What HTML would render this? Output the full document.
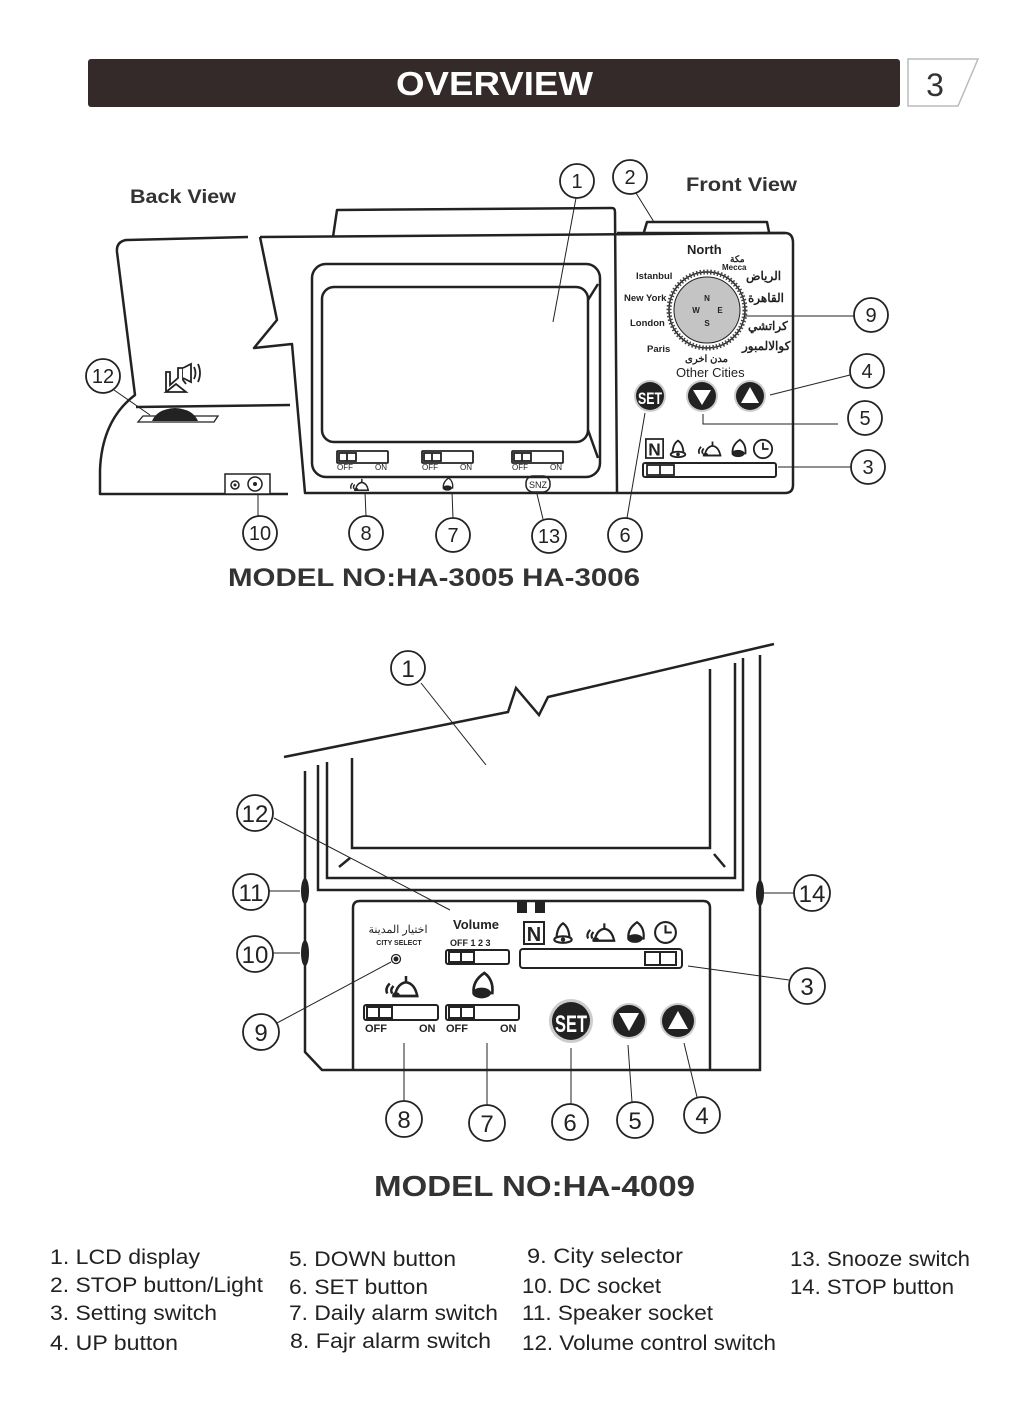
<!DOCTYPE html>
<html><head><meta charset="utf-8"><style>
html,body{margin:0;padding:0;background:#fff}
svg{display:block}
text{font-family:"Liberation Sans",sans-serif}
</style></head><body>
<svg width="1020" height="1421" viewBox="0 0 1020 1421" xmlns="http://www.w3.org/2000/svg">
<defs>
<symbol id="bell" viewBox="0 0 20 24"><path d="M4 19 Q4 8 10 4 Q16 8 16 19 Z" fill="#fff" stroke="#222" stroke-width="2"/><ellipse cx="10" cy="19" rx="8" ry="3" fill="#fff" stroke="#222" stroke-width="2"/><circle cx="10" cy="19" r="2" fill="#222"/></symbol>
<symbol id="bell2" viewBox="0 0 20 24"><path d="M3 18 Q2 9 11 3 Q18 8 17 18 Z" fill="#fff" stroke="#222" stroke-width="2"/><ellipse cx="9" cy="18" rx="7" ry="4" fill="#222"/></symbol>
<symbol id="mosque" viewBox="0 0 30 24"><path d="M10 20 Q12 10 19 9 Q26 10 28 20 Z" fill="#fff" stroke="#222" stroke-width="2"/><line x1="19" y1="9" x2="19" y2="4" stroke="#222" stroke-width="2"/><path d="M6 10 Q2 14 4 18 M9 12 Q6 15 8 18" fill="none" stroke="#222" stroke-width="2"/><line x1="8" y1="20" x2="29" y2="20" stroke="#222" stroke-width="2"/><ellipse cx="11" cy="19" rx="3" ry="2" fill="#222"/></symbol>
<symbol id="clock" viewBox="0 0 24 24"><circle cx="12" cy="12" r="10" fill="#fff" stroke="#222" stroke-width="2"/><path d="M12 5 V12 H18" fill="none" stroke="#222" stroke-width="2"/></symbol>
<symbol id="nbox" viewBox="0 0 22 24"><rect x="1" y="1" width="20" height="22" fill="#fff" stroke="#222" stroke-width="2"/><text x="11" y="20" font-size="20" font-weight="bold" text-anchor="middle" fill="#222" font-family="Liberation Sans,sans-serif">N</text></symbol>
</defs>

<!-- header -->
<rect x="88" y="59" width="812" height="48" rx="3" fill="#332a29"/>
<text x="396" y="95" font-size="33" font-weight="bold" fill="#fff" textLength="197" lengthAdjust="spacingAndGlyphs">OVERVIEW</text>
<path d="M908 59 H978 L958 106 H908 Z" fill="#fff" stroke="#bbb" stroke-width="1.5"/>
<text x="935" y="96" font-size="32" fill="#333" text-anchor="middle">3</text>

<g fill="none" stroke="#222" stroke-width="2.5" stroke-linejoin="round">
<path d="M248 237 L126 240 Q116 242 117 252 L135 395 Q102 420 100 470 L100 494 L288 494"/>
<line x1="136" y1="407" x2="290" y2="405"/>
<path d="M260 237 L277 320 L254 348 L292 344 L305 493 L617 493"/>
<line x1="260" y1="237" x2="785" y2="233"/>
<path d="M333 237 L337 210 L612 208 Q615 208 615 212 L617 493"/>
<path d="M617 233 H785 Q793 233 793 243 V485 Q793 493 785 493 H617"/>
<path d="M644 232 L647 222 H767 L769 232"/>
<rect x="312" y="264" width="288" height="213" rx="14"/>
<rect x="322" y="287" width="266" height="155" rx="12"/>
<line x1="588" y1="300" x2="598" y2="284"/>
<line x1="588" y1="430" x2="598" y2="458"/>
</g>
<g stroke="#222" stroke-width="1.8" fill="#fff">
<rect x="337" y="451" width="51" height="12" rx="1"/><rect x="339" y="453" width="17" height="8"/><line x1="347" y1="453" x2="347" y2="461"/>
<rect x="422" y="451" width="51" height="12" rx="1"/><rect x="424" y="453" width="17" height="8"/><line x1="432" y1="453" x2="432" y2="461"/>
<rect x="512" y="451" width="51" height="12" rx="1"/><rect x="514" y="453" width="17" height="8"/><line x1="522" y1="453" x2="522" y2="461"/>
</g>
<g font-size="8" fill="#222">
<text x="337" y="470">OFF</text><text x="375" y="470">ON</text>
<text x="422" y="470">OFF</text><text x="460" y="470">ON</text>
<text x="512" y="470">OFF</text><text x="550" y="470">ON</text>
</g>
<use href="#mosque" x="348" y="476" width="22" height="17"/>
<use href="#bell2" x="441" y="476" width="14" height="16"/>
<rect x="526" y="476" width="24" height="16" rx="7" fill="none" stroke="#222" stroke-width="1.5"/>
<text x="538" y="488" font-size="9" text-anchor="middle" fill="#222">SNZ</text>
<path d="M166 392 V372 H170 V385 L178 378 V368 H183 V380 L186 384 M166 392 H186 L176 384 Z" fill="none" stroke="#222" stroke-width="1.8"/>
<path d="M183 368 L191 364 V382 L183 378" fill="#fff" stroke="#222" stroke-width="1.8"/>
<path d="M194 367 Q197 373 194 379 M198 364 Q202 373 198 382" fill="none" stroke="#222" stroke-width="1.8"/>
<path d="M143 416 L218 416 L214 422 L138 422 Z" fill="#fff" stroke="#222" stroke-width="1.3"/>
<path d="M152 421 Q157 409 175 408 Q193 409 198 421 Z" fill="#222"/>
<rect x="225" y="474" width="45" height="20" fill="#fff" stroke="#222" stroke-width="1.5"/>
<circle cx="235" cy="485" r="4" fill="none" stroke="#222" stroke-width="1.5"/><circle cx="235" cy="485" r="1.5" fill="#222"/>
<circle cx="255" cy="484" r="7" fill="none" stroke="#222" stroke-width="1.5"/><circle cx="255" cy="484" r="2" fill="#222"/>

<circle cx="707" cy="310" r="38" fill="#fff" stroke="#222" stroke-width="1.5"/>
<circle cx="707" cy="310" r="38" fill="none" stroke="#444" stroke-width="5" stroke-dasharray="1.5 2"/>
<circle cx="707" cy="310" r="33" fill="#c4c4c4" stroke="#222" stroke-width="1"/>
<g font-size="8" font-weight="bold" fill="#222" text-anchor="middle">
<text x="707" y="301">N</text><text x="696" y="313">W</text><text x="720" y="313">E</text><text x="707" y="326">S</text>
</g>
<g font-size="9.5" font-weight="bold" fill="#222">
<text x="687" y="254" font-size="13">North</text>
<text x="722" y="270" font-size="8">Mecca</text>
<text x="730" y="262" font-size="9" font-family="Liberation Sans,DejaVu Sans,sans-serif">مكة</text>
<text x="636" y="279">Istanbul</text>
<text x="624" y="301">New York</text>
<text x="630" y="326">London</text>
<text x="647" y="352">Paris</text>
<text x="746" y="280" font-size="12" font-family="DejaVu Sans,sans-serif">الرياض</text>
<text x="748" y="302" font-size="12" font-family="DejaVu Sans,sans-serif">القاهرة</text>
<text x="748" y="330" font-size="12" font-family="DejaVu Sans,sans-serif">كراتشي</text>
<text x="742" y="350" font-size="12" font-family="DejaVu Sans,sans-serif">كوالالمبور</text>
<text x="685" y="362" font-size="10" font-family="DejaVu Sans,sans-serif">مدن اخرى</text>
<text x="676" y="377" font-size="13" font-weight="normal">Other Cities</text>
</g>
<circle cx="650" cy="396" r="16" fill="#ccc"/><circle cx="650" cy="396" r="14" fill="#222"/>
<text x="650" y="404" font-size="17" font-weight="bold" fill="#fff" text-anchor="middle" textLength="24" lengthAdjust="spacingAndGlyphs">SET</text>
<circle cx="702" cy="396" r="16" fill="#ccc"/><circle cx="702" cy="396" r="14" fill="#222"/>
<path d="M693 390 L711 390 L702 405 Z" fill="#fff"/>
<circle cx="750" cy="396" r="16" fill="#ccc"/><circle cx="750" cy="396" r="14" fill="#222"/>
<path d="M741 403 L759 403 L750 387 Z" fill="#fff"/>
<use href="#nbox" x="645" y="438" width="19" height="21"/>
<use href="#bell" x="668" y="437" width="20" height="22"/>
<use href="#mosque" x="693" y="438" width="32" height="21"/>
<use href="#bell2" x="729" y="437" width="20" height="22"/>
<use href="#clock" x="752" y="438" width="22" height="22"/>
<rect x="643" y="463" width="133" height="14" rx="2" fill="#fff" stroke="#222" stroke-width="2"/>
<rect x="647" y="465" width="27" height="10" fill="#fff" stroke="#222" stroke-width="1.8"/><line x1="660" y1="465" x2="660" y2="475" stroke="#222" stroke-width="1.8"/>

<g fill="#fff" stroke="#222" stroke-width="1.8">
<circle cx="577" cy="181" r="17"/><circle cx="630" cy="177" r="17"/><circle cx="871" cy="315" r="17"/>
<circle cx="867" cy="371" r="17"/><circle cx="865" cy="418" r="17"/><circle cx="868" cy="467" r="17"/>
<circle cx="103" cy="376" r="17"/><circle cx="260" cy="533" r="17"/><circle cx="366" cy="533" r="17"/>
<circle cx="453" cy="535" r="17"/><circle cx="549" cy="536" r="17"/><circle cx="625" cy="535" r="17"/>
</g>
<g fill="none" stroke="#222" stroke-width="1">
<line x1="576" y1="198" x2="553" y2="322"/>
<line x1="636" y1="193" x2="654" y2="222"/>
<line x1="854" y1="316" x2="745" y2="316"/>
<line x1="850" y1="375" x2="770" y2="395"/>
<path d="M838 424 H703 V414"/>
<line x1="851" y1="467" x2="778" y2="467"/>
<line x1="114" y1="390" x2="150" y2="415"/>
<line x1="258" y1="516" x2="258" y2="494"/>
<line x1="366" y1="516" x2="365" y2="492"/>
<line x1="453" y1="518" x2="452" y2="492"/>
<line x1="543" y1="519" x2="537" y2="494"/>
<line x1="627" y1="518" x2="645" y2="413"/>
</g>
<g font-size="20" fill="#222" text-anchor="middle">
<text x="577" y="188">1</text><text x="630" y="184">2</text><text x="871" y="322">9</text>
<text x="867" y="378">4</text><text x="865" y="425">5</text><text x="868" y="474">3</text>
<text x="103" y="383">12</text><text x="260" y="540">10</text><text x="366" y="540">8</text>
<text x="453" y="542">7</text><text x="549" y="543">13</text><text x="625" y="542">6</text>
</g>
<text x="130" y="203" font-size="19" font-weight="bold" fill="#333" textLength="106" lengthAdjust="spacingAndGlyphs">Back View</text>
<text x="686" y="191" font-size="19" font-weight="bold" fill="#333" textLength="111" lengthAdjust="spacingAndGlyphs">Front View</text>
<text x="228" y="586" font-size="25" font-weight="bold" fill="#333" textLength="412" lengthAdjust="spacingAndGlyphs">MODEL NO:HA-3005  HA-3006</text>

<g fill="none" stroke="#222" stroke-width="2.5" stroke-linejoin="miter">
<path d="M284 757 L508 712 L516 688 L539 715 L548 697 L774 644"/>
<path d="M305 771 V1052 L322 1070 H760 V655"/>
<path d="M318 765 V890 H743 V658"/>
<path d="M327 762 V878 H735 V663"/>
<path d="M352 758 V848 H710 V669"/>
<line x1="339" y1="867" x2="350" y2="858"/>
<line x1="714" y1="854" x2="725" y2="867"/>
<path d="M353 1070 V908 Q353 901 360 901 H703 Q710 901 710 908 V1070"/>
</g>
<ellipse cx="305" cy="891" rx="4" ry="13" fill="#222"/>
<ellipse cx="305" cy="953" rx="4" ry="13" fill="#222"/>
<ellipse cx="760" cy="893" rx="4" ry="13" fill="#222"/>
<rect x="517" y="902" width="10" height="11" fill="#222"/><rect x="535" y="902" width="10" height="11" fill="#222"/>
<text x="398" y="933" font-size="11" fill="#222" text-anchor="middle" font-family="DejaVu Sans,sans-serif">اختيار المدينة</text>
<text x="399" y="945" font-size="7" font-weight="bold" fill="#222" text-anchor="middle">CITY SELECT</text>
<circle cx="396" cy="959" r="4.5" fill="#fff" stroke="#222" stroke-width="1.3"/><circle cx="396" cy="959" r="2.5" fill="#222"/>
<text x="476" y="929" font-size="13" font-weight="bold" fill="#222" text-anchor="middle">Volume</text>
<text x="450" y="946" font-size="9" font-weight="bold" fill="#222">OFF  1  2  3</text>
<g stroke="#222" fill="#fff" stroke-width="2">
<rect x="446" y="950" width="63" height="14" rx="2"/><rect x="449" y="952" width="25" height="10"/><line x1="461" y1="952" x2="461" y2="962"/>
<rect x="520" y="949" width="162" height="19" rx="3"/><rect x="645" y="952" width="31" height="13"/><line x1="660" y1="952" x2="660" y2="965"/>
<rect x="364" y="1005" width="74" height="15" rx="2"/><rect x="367" y="1007" width="25" height="11"/><line x1="379" y1="1007" x2="379" y2="1018"/>
<rect x="446" y="1005" width="73" height="15" rx="2"/><rect x="449" y="1007" width="25" height="11"/><line x1="461" y1="1007" x2="461" y2="1018"/>
</g>
<g font-size="11" font-weight="bold" fill="#222">
<text x="365" y="1032">OFF</text><text x="419" y="1032">ON</text>
<text x="446" y="1032">OFF</text><text x="500" y="1032">ON</text>
</g>
<use href="#nbox" x="523" y="921" width="22" height="24"/>
<use href="#bell" x="551" y="919" width="24" height="26"/>
<use href="#mosque" x="580" y="919" width="40" height="26"/>
<use href="#bell2" x="624" y="919" width="24" height="26"/>
<use href="#clock" x="653" y="920" width="25" height="25"/>
<use href="#mosque" x="381" y="971" width="40" height="30"/>
<use href="#bell2" x="469" y="969" width="28" height="32"/>
<circle cx="571" cy="1021" r="22" fill="#ccc"/><circle cx="571" cy="1021" r="19" fill="#222"/>
<text x="571" y="1032" font-size="24" font-weight="bold" fill="#fff" text-anchor="middle" textLength="32" lengthAdjust="spacingAndGlyphs">SET</text>
<circle cx="629" cy="1021" r="18" fill="#ccc"/><circle cx="629" cy="1021" r="16" fill="#222"/>
<path d="M619 1013 L639 1013 L629 1031 Z" fill="#fff"/>
<circle cx="678" cy="1021" r="18" fill="#ccc"/><circle cx="678" cy="1021" r="16" fill="#222"/>
<path d="M668 1029 L688 1029 L678 1011 Z" fill="#fff"/>

<g fill="#fff" stroke="#222" stroke-width="1.8">
<circle cx="408" cy="668" r="17"/><circle cx="255" cy="813" r="18"/><circle cx="251" cy="892" r="18"/>
<circle cx="255" cy="954" r="18"/><circle cx="261" cy="1032" r="18"/><circle cx="812" cy="893" r="18"/>
<circle cx="807" cy="986" r="18"/><circle cx="404" cy="1119" r="18"/><circle cx="487" cy="1123" r="18"/>
<circle cx="570" cy="1122" r="18"/><circle cx="635" cy="1120" r="18"/><circle cx="702" cy="1115" r="18"/>
</g>
<g fill="none" stroke="#222" stroke-width="1">
<line x1="421" y1="683" x2="486" y2="765"/>
<line x1="274" y1="818" x2="450" y2="910"/>
<line x1="269" y1="891" x2="300" y2="891"/>
<line x1="273" y1="953" x2="300" y2="953"/>
<line x1="277" y1="1023" x2="391" y2="962"/>
<line x1="794" y1="893" x2="764" y2="893"/>
<line x1="789" y1="980" x2="688" y2="966"/>
<line x1="404" y1="1101" x2="404" y2="1043"/>
<line x1="487" y1="1105" x2="487" y2="1043"/>
<line x1="571" y1="1104" x2="571" y2="1048"/>
<line x1="632" y1="1102" x2="628" y2="1045"/>
<line x1="697" y1="1097" x2="684" y2="1043"/>
</g>
<g font-size="24" fill="#222" text-anchor="middle">
<text x="408" y="677">1</text><text x="255" y="822">12</text><text x="251" y="901">11</text>
<text x="255" y="963">10</text><text x="261" y="1041">9</text><text x="812" y="902">14</text>
<text x="807" y="995">3</text><text x="404" y="1128">8</text><text x="487" y="1132">7</text>
<text x="570" y="1131">6</text><text x="635" y="1129">5</text><text x="702" y="1124">4</text>
</g>
<text x="374" y="1196" font-size="29" font-weight="bold" fill="#333" textLength="321" lengthAdjust="spacingAndGlyphs">MODEL NO:HA-4009</text>

<g font-size="21" fill="#222">
<text x="50" y="1264" textLength="150" lengthAdjust="spacingAndGlyphs">1. LCD display</text>
<text x="50" y="1292" textLength="213" lengthAdjust="spacingAndGlyphs">2. STOP button/Light</text>
<text x="50" y="1320" textLength="167" lengthAdjust="spacingAndGlyphs">3. Setting switch</text>
<text x="50" y="1350" textLength="128" lengthAdjust="spacingAndGlyphs">4. UP button</text>
<text x="289" y="1266" textLength="167" lengthAdjust="spacingAndGlyphs">5. DOWN button</text>
<text x="289" y="1294" textLength="139" lengthAdjust="spacingAndGlyphs">6. SET button</text>
<text x="289" y="1320" textLength="209" lengthAdjust="spacingAndGlyphs">7. Daily alarm switch</text>
<text x="290" y="1348" textLength="201" lengthAdjust="spacingAndGlyphs">8.  Fajr alarm switch</text>
<text x="527" y="1263" textLength="156" lengthAdjust="spacingAndGlyphs">9.  City selector</text>
<text x="522" y="1293" textLength="139" lengthAdjust="spacingAndGlyphs">10. DC socket</text>
<text x="522" y="1320" textLength="191" lengthAdjust="spacingAndGlyphs">11. Speaker socket</text>
<text x="522" y="1350" textLength="254" lengthAdjust="spacingAndGlyphs">12. Volume control switch</text>
<text x="790" y="1266" textLength="180" lengthAdjust="spacingAndGlyphs">13. Snooze switch</text>
<text x="790" y="1294" textLength="164" lengthAdjust="spacingAndGlyphs">14. STOP button</text>
</g>
</svg>
</body></html>
